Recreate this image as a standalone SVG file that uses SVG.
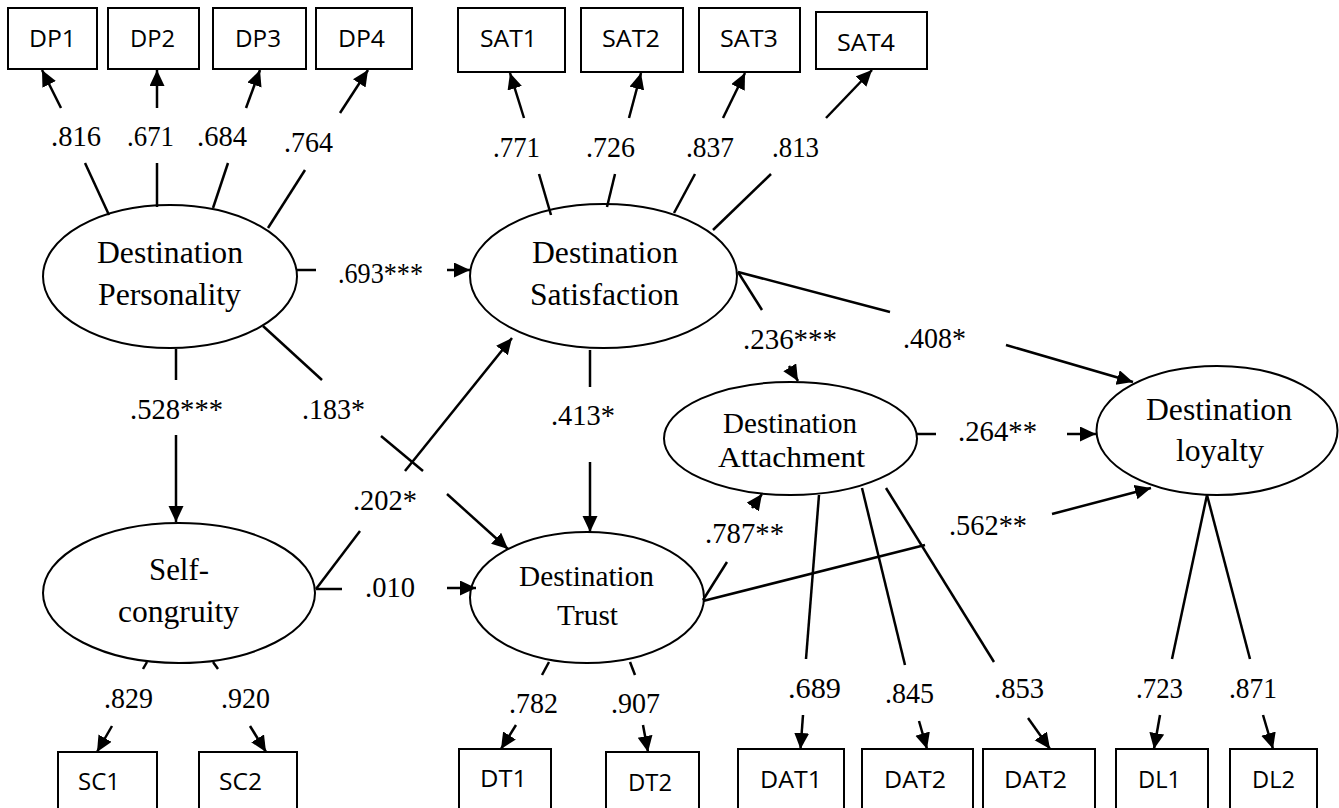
<svg xmlns="http://www.w3.org/2000/svg" width="1339" height="808" viewBox="0 0 1339 808">
<style>
.box{fill:#fff;stroke:#000;stroke-width:2}
.ell{fill:#fff;stroke:#000;stroke-width:2}
.bl{font-family:"Open Sans","Noto Sans",sans-serif;font-size:24px;fill:#000}
.el{font-family:"Liberation Serif","Times New Roman",serif;font-size:31px;fill:#000}
.es{font-family:"Liberation Serif","Times New Roman",serif;font-size:29px;fill:#000}
.nl{font-family:"Liberation Serif","Times New Roman",serif;font-size:28.5px;fill:#000}
.ln{stroke:#000;stroke-width:2.5;fill:none}
.ar{stroke:#000;stroke-width:2.5;fill:none;marker-end:url(#ah)}
</style>
<defs>
<marker id="ah" markerUnits="userSpaceOnUse" markerWidth="17" markerHeight="16" refX="16" refY="7.5" orient="auto">
<path d="M0,0 L16,7.5 L0,15 z" fill="#000"/>
</marker>
</defs>
<rect width="1339" height="808" fill="#fff"/>

<g id="DP1"><rect class="box" x="8" y="8" width="89" height="61"/><text class="bl" x="29" y="47" textLength="47" lengthAdjust="spacingAndGlyphs">DP1</text></g>
<g id="DP2"><rect class="box" x="108" y="8" width="91" height="61"/><text class="bl" x="130" y="47" textLength="45" lengthAdjust="spacingAndGlyphs">DP2</text></g>
<g id="DP3"><rect class="box" x="213" y="8" width="93" height="61"/><text class="bl" x="235" y="47" textLength="46" lengthAdjust="spacingAndGlyphs">DP3</text></g>
<g id="DP4"><rect class="box" x="316" y="8" width="96" height="61"/><text class="bl" x="338" y="47" textLength="47" lengthAdjust="spacingAndGlyphs">DP4</text></g>
<g id="SAT1"><rect class="box" x="458" y="8" width="107" height="64"/><text class="bl" x="480" y="47" textLength="57" lengthAdjust="spacingAndGlyphs">SAT1</text></g>
<g id="SAT2"><rect class="box" x="581" y="8" width="102" height="64"/><text class="bl" x="602" y="47" textLength="58" lengthAdjust="spacingAndGlyphs">SAT2</text></g>
<g id="SAT3"><rect class="box" x="699" y="8" width="101" height="64"/><text class="bl" x="720" y="47" textLength="58" lengthAdjust="spacingAndGlyphs">SAT3</text></g>
<g id="SAT4"><rect class="box" x="816" y="12" width="111" height="57"/><text class="bl" x="837" y="51" textLength="58" lengthAdjust="spacingAndGlyphs">SAT4</text></g>

<g id="SC1"><rect class="box" x="58" y="752" width="99" height="70"/><text class="bl" x="78" y="790" textLength="42" lengthAdjust="spacingAndGlyphs">SC1</text></g>
<g id="SC2"><rect class="box" x="199" y="752" width="98" height="70"/><text class="bl" x="219" y="790" textLength="43" lengthAdjust="spacingAndGlyphs">SC2</text></g>
<g id="DT1"><rect class="box" x="459" y="749" width="92" height="70"/><text class="bl" x="480" y="787" textLength="47" lengthAdjust="spacingAndGlyphs">DT1</text></g>
<g id="DT2"><rect class="box" x="606" y="752" width="93" height="70"/><text class="bl" x="628" y="791" textLength="44" lengthAdjust="spacingAndGlyphs">DT2</text></g>
<g id="DAT1"><rect class="box" x="738" y="749" width="106" height="70"/><text class="bl" x="760" y="788" textLength="62" lengthAdjust="spacingAndGlyphs">DAT1</text></g>
<g id="DAT2a"><rect class="box" x="862" y="749" width="111" height="70"/><text class="bl" x="884" y="788" textLength="62" lengthAdjust="spacingAndGlyphs">DAT2</text></g>
<g id="DAT2b"><rect class="box" x="983" y="749" width="112" height="70"/><text class="bl" x="1004" y="788" textLength="63" lengthAdjust="spacingAndGlyphs">DAT2</text></g>
<g id="DL1"><rect class="box" x="1116" y="749" width="92" height="70"/><text class="bl" x="1138" y="788" textLength="43" lengthAdjust="spacingAndGlyphs">DL1</text></g>
<g id="DL2"><rect class="box" x="1230" y="749" width="87" height="70"/><text class="bl" x="1252" y="788" textLength="43" lengthAdjust="spacingAndGlyphs">DL2</text></g>

<g id="personality"><ellipse class="ell" cx="170" cy="276.5" rx="127" ry="71.5"/>
<text class="el" x="97" y="263" textLength="146" lengthAdjust="spacingAndGlyphs">Destination</text>
<text class="el" x="98" y="305" textLength="143" lengthAdjust="spacingAndGlyphs">Personality</text></g>
<g id="satisfaction"><ellipse class="ell" cx="603.5" cy="276" rx="133.5" ry="72"/>
<text class="el" x="532" y="263" textLength="146" lengthAdjust="spacingAndGlyphs">Destination</text>
<text class="el" x="530" y="305" textLength="149" lengthAdjust="spacingAndGlyphs">Satisfaction</text></g>
<g id="selfcongruity"><ellipse class="ell" cx="179" cy="593" rx="136" ry="70"/>
<text class="el" x="149" y="580" textLength="60" lengthAdjust="spacingAndGlyphs">Self-</text>
<text class="el" x="118" y="622" textLength="121" lengthAdjust="spacingAndGlyphs">congruity</text></g>
<g id="trust"><ellipse class="ell" cx="587" cy="597.5" rx="117" ry="65.5"/>
<text class="es" x="519" y="586" textLength="135" lengthAdjust="spacingAndGlyphs">Destination</text>
<text class="es" x="557" y="625" textLength="61" lengthAdjust="spacingAndGlyphs">Trust</text></g>
<g id="attachment"><ellipse class="ell" cx="790.5" cy="438.5" rx="126.5" ry="56.5"/>
<text class="es" x="723" y="433" textLength="134" lengthAdjust="spacingAndGlyphs">Destination</text>
<text class="es" x="718" y="467" textLength="147" lengthAdjust="spacingAndGlyphs">Attachment</text></g>
<g id="loyalty"><ellipse class="ell" cx="1217" cy="430.5" rx="120.5" ry="64.5"/>
<text class="el" x="1146" y="420" textLength="146" lengthAdjust="spacingAndGlyphs">Destination</text>
<text class="el" x="1176" y="461" textLength="88" lengthAdjust="spacingAndGlyphs">loyalty</text></g>

<g id="connectors">
<line class="ln" x1="85" y1="163" x2="109" y2="215"/>
<line class="ln" x1="157" y1="163" x2="157" y2="207"/>
<line class="ln" x1="228" y1="163" x2="213" y2="208"/>
<line class="ln" x1="305" y1="170" x2="268" y2="228"/>
<line class="ln" x1="539" y1="174" x2="551" y2="215"/>
<line class="ln" x1="615" y1="174" x2="607" y2="207"/>
<line class="ln" x1="695" y1="174" x2="674" y2="213"/>
<line class="ln" x1="771" y1="174" x2="713" y2="230"/>
<line class="ln" x1="297" y1="270" x2="316" y2="270"/>
<line class="ln" x1="176" y1="349" x2="176" y2="380"/>
<line class="ln" x1="263" y1="326" x2="322" y2="380"/>
<line class="ln" x1="381" y1="436" x2="423" y2="471"/>
<line class="ln" x1="316" y1="589" x2="360" y2="531"/>
<line class="ln" x1="316" y1="589" x2="342" y2="589"/>
<line class="ln" x1="590" y1="350" x2="590" y2="387"/>
<line class="ln" x1="738" y1="272" x2="762" y2="310"/>
<line class="ln" x1="738" y1="272" x2="890" y2="312"/>
<line class="ln" x1="917" y1="434" x2="936" y2="434"/>
<line class="ln" x1="703" y1="600" x2="727" y2="562"/>
<line class="ln" x1="703" y1="601" x2="925" y2="545"/>
<line class="ln" x1="819" y1="495" x2="806" y2="659"/>
<line class="ln" x1="862" y1="488" x2="905" y2="665"/>
<line class="ln" x1="886" y1="488" x2="994" y2="662"/>
<line class="ln" x1="1207" y1="495" x2="1172" y2="659"/>
<line class="ln" x1="1207" y1="495" x2="1250" y2="659"/>
<line class="ln" x1="147" y1="662" x2="143" y2="669"/>
<line class="ln" x1="213" y1="662" x2="218" y2="669"/>
<line class="ln" x1="549" y1="662" x2="542" y2="675"/>
<line class="ln" x1="630" y1="662" x2="635" y2="675"/>

<line class="ar" x1="61" y1="108" x2="42" y2="70"/>
<line class="ar" x1="157" y1="108" x2="157" y2="70"/>
<line class="ar" x1="246" y1="108" x2="260" y2="70"/>
<line class="ar" x1="340" y1="113" x2="368" y2="70"/>
<line class="ar" x1="524" y1="118" x2="510" y2="73"/>
<line class="ar" x1="629" y1="118" x2="641" y2="73"/>
<line class="ar" x1="723" y1="118" x2="745" y2="73"/>
<line class="ar" x1="826" y1="118" x2="872" y2="70"/>
<line class="ar" x1="447" y1="270" x2="470" y2="270"/>
<line class="ar" x1="176" y1="435" x2="176" y2="522"/>
<line class="ar" x1="447" y1="494" x2="508" y2="549"/>
<line class="ar" x1="405" y1="471" x2="512" y2="338"/>
<line class="ar" x1="447" y1="588" x2="476" y2="588"/>
<line class="ar" x1="590" y1="462" x2="590" y2="532"/>
<line class="ar" x1="789" y1="366" x2="798" y2="381"/>
<line class="ar" x1="1006" y1="345" x2="1133" y2="382"/>
<line class="ar" x1="1067" y1="434" x2="1096" y2="434"/>
<line class="ar" x1="752" y1="508" x2="762" y2="494"/>
<line class="ar" x1="1052" y1="514" x2="1151" y2="488"/>
<line class="ar" x1="112" y1="726" x2="97" y2="752"/>
<line class="ar" x1="250" y1="726" x2="266" y2="752"/>
<line class="ar" x1="516" y1="725" x2="501" y2="749"/>
<line class="ar" x1="643" y1="725" x2="648" y2="752"/>
<line class="ar" x1="803" y1="715" x2="800.5" y2="749"/>
<line class="ar" x1="919" y1="721" x2="927" y2="749"/>
<line class="ar" x1="1028" y1="718" x2="1050" y2="749"/>
<line class="ar" x1="1160" y1="715" x2="1154" y2="749"/>
<line class="ar" x1="1263" y1="715" x2="1273" y2="749"/>

<text class="nl" x="51" y="146" textLength="50" lengthAdjust="spacingAndGlyphs">.816</text>
<text class="nl" x="127" y="146" textLength="47" lengthAdjust="spacingAndGlyphs">.671</text>
<text class="nl" x="197" y="146" textLength="50" lengthAdjust="spacingAndGlyphs">.684</text>
<text class="nl" x="284" y="152" textLength="49" lengthAdjust="spacingAndGlyphs">.764</text>
<text class="nl" x="493" y="157" textLength="47" lengthAdjust="spacingAndGlyphs">.771</text>
<text class="nl" x="586" y="157" textLength="49" lengthAdjust="spacingAndGlyphs">.726</text>
<text class="nl" x="686" y="157" textLength="48" lengthAdjust="spacingAndGlyphs">.837</text>
<text class="nl" x="772" y="157" textLength="47" lengthAdjust="spacingAndGlyphs">.813</text>
<text class="nl" x="338" y="283" textLength="85" lengthAdjust="spacingAndGlyphs">.693***</text>
<text class="nl" x="130" y="419" textLength="93" lengthAdjust="spacingAndGlyphs">.528***</text>
<text class="nl" x="302" y="419" textLength="63" lengthAdjust="spacingAndGlyphs">.183*</text>
<text class="nl" x="353" y="510" textLength="64" lengthAdjust="spacingAndGlyphs">.202*</text>
<text class="nl" x="365" y="597" textLength="50" lengthAdjust="spacingAndGlyphs">.010</text>
<text class="nl" x="551" y="425" textLength="64" lengthAdjust="spacingAndGlyphs">.413*</text>
<text class="nl" x="743" y="349" textLength="94" lengthAdjust="spacingAndGlyphs">.236***</text>
<text class="nl" x="903" y="348" textLength="63" lengthAdjust="spacingAndGlyphs">.408*</text>
<text class="nl" x="958" y="441" textLength="79" lengthAdjust="spacingAndGlyphs">.264**</text>
<text class="nl" x="705" y="543" textLength="79" lengthAdjust="spacingAndGlyphs">.787**</text>
<text class="nl" x="949" y="535" textLength="78" lengthAdjust="spacingAndGlyphs">.562**</text>
<text class="nl" x="104" y="708" textLength="49" lengthAdjust="spacingAndGlyphs">.829</text>
<text class="nl" x="221" y="708" textLength="49" lengthAdjust="spacingAndGlyphs">.920</text>
<text class="nl" x="509" y="713" textLength="49" lengthAdjust="spacingAndGlyphs">.782</text>
<text class="nl" x="611" y="713" textLength="49" lengthAdjust="spacingAndGlyphs">.907</text>
<text class="nl" x="788" y="698" textLength="53" lengthAdjust="spacingAndGlyphs">.689</text>
<text class="nl" x="885" y="703" textLength="49" lengthAdjust="spacingAndGlyphs">.845</text>
<text class="nl" x="994" y="698" textLength="50" lengthAdjust="spacingAndGlyphs">.853</text>
<text class="nl" x="1136" y="698" textLength="47" lengthAdjust="spacingAndGlyphs">.723</text>
<text class="nl" x="1229" y="698" textLength="48" lengthAdjust="spacingAndGlyphs">.871</text>
</g>
</svg>
